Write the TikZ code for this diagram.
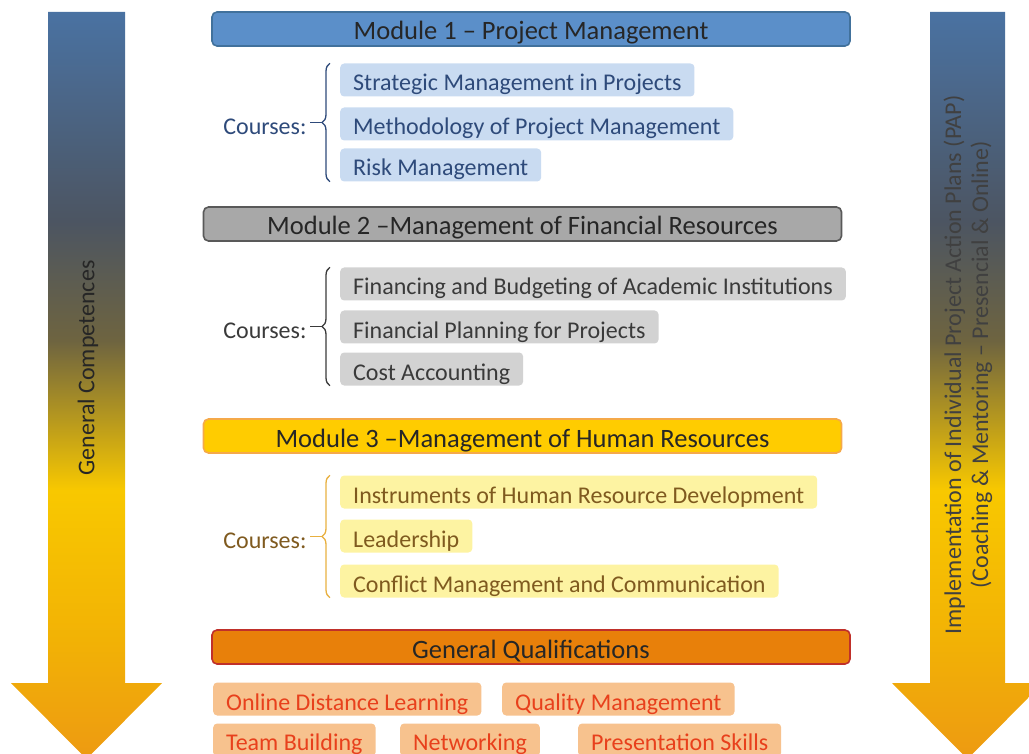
\documentclass[tikz,border=0pt]{standalone}
\usepackage{fontspec}
\setmainfont{Carlito}
\usepackage{tikz}
\usetikzlibrary{positioning,calc,decorations.pathreplacing}
\definecolor{modblue}{HTML}{5B8FC9}
\definecolor{modblueline}{HTML}{41719C}
\definecolor{courseblue}{HTML}{C9DBF1}
\definecolor{textblue}{HTML}{2E4A7A}
\definecolor{modgray}{HTML}{A8A8A8}
\definecolor{modgrayline}{HTML}{595959}
\definecolor{coursegray}{HTML}{D2D2D2}
\definecolor{textgray}{HTML}{3A3A3A}
\definecolor{modgold}{HTML}{FFCC00}
\definecolor{modgoldline}{HTML}{F5A94A}
\definecolor{courseyellow}{HTML}{FDF3A2}
\definecolor{textbrown}{HTML}{7F5A1F}
\definecolor{bracegold}{HTML}{E8B040}
\definecolor{qualorange}{HTML}{E8800A}
\definecolor{qualline}{HTML}{C0302A}
\definecolor{qualbox}{HTML}{F7C28E}
\definecolor{qualtext}{HTML}{E8401C}
\definecolor{gradblue}{HTML}{4A72A2}
\definecolor{gradslate}{HTML}{4C5562}
\definecolor{gradolive}{HTML}{6E6440}
\definecolor{gradgold}{HTML}{F8C800}
\definecolor{gradamber}{HTML}{F2B205}
\definecolor{gradorange}{HTML}{ED9A12}
\pgfdeclareverticalshading{competence}{100bp}{color(0bp)=(gradorange); color(25bp)=(gradorange); color(33bp)=(gradamber); color(43bp)=(gradgold); color(53bp)=(gradolive); color(61bp)=(gradslate); color(75bp)=(gradblue); color(100bp)=(gradblue)}
\newcommand{\bodyfont}{\fontsize{24}{27}\selectfont}
\newcommand{\headfont}{\fontsize{26.5}{30}\selectfont}

\begin{document}
\begin{tikzpicture}[x=1pt,y=-1pt,
    modhead/.style={draw, rounded corners=5pt, line width=1.6pt, minimum width=638pt, minimum height=34pt, inner ysep=0pt, text height=22pt, text depth=0pt, font=\headfont, text=black!85},
    coursebox/.style={anchor=west, rounded corners=4pt, inner xsep=13pt, inner ysep=0pt, minimum height=33pt, text height=22pt, text depth=0pt, font=\bodyfont},
    courselab/.style={font=\bodyfont, left=12pt of #1, yshift=-4pt},
    coursebrace/.style={decorate, decoration={brace, amplitude=8pt}, line width=1.3pt}]
    \useasboundingbox (0,0) rectangle (1029,754);
    \shade[shading=competence] (48,12) -- (125,12) -- (125,683) -- (162,683) -- (86.5,759) -- (11,683) -- (48,683) -- cycle;
    \shade[shading=competence] (930,12) -- (1005,12) -- (1005,683) -- (1043,683) -- (967.5,759) -- (892,683) -- (930,683) -- cycle;
    \node[rotate=90, font=\bodyfont, text=black!85] (gc) at (88,368) {General Competences};
    \node[rotate=90, font=\bodyfont, text=black!75, align=center] (pap) at (968,365) {Implementation of Individual Project Action Plans (PAP)\\(Coaching \& Mentoring -- Presencial \& Online)};

    \node[modhead, fill=modblue, draw=modblueline] (m1) at (531,29) {Module 1 -- Project Management};
    \node[coursebox, fill=courseblue, text=textblue] (c11) at (340,80) {Strategic Management in Projects};
    \node[coursebox, fill=courseblue, text=textblue] (c12) at (340,124) {Methodology of Project Management};
    \node[coursebox, fill=courseblue, text=textblue] (c13) at (340,165) {Risk Management};
    \coordinate (b1top) at ([xshift=-10pt]c11.north west);
    \coordinate (b1bot) at ([xshift=-10pt]c13.south west);
    \draw[coursebrace, textblue] (b1bot) -- (b1top);
    \coordinate (t1) at ($(b1top)!0.5!(b1bot)+(-8pt,0)$);
    \node[courselab=t1, text=textblue] (lab1) {Courses:};
    \draw[line width=1.3pt, textblue] (lab1.east |- t1) -- (t1);

    \node[modhead, fill=modgray, draw=modgrayline] (m2) at (522.5,224) {Module 2 --Management of Financial Resources};
    \node[coursebox, fill=coursegray, text=textgray] (c21) at (340,284) {Financing and Budgeting of Academic Institutions};
    \node[coursebox, fill=coursegray, text=textgray] (c22) at (340,327) {Financial Planning for Projects};
    \node[coursebox, fill=coursegray, text=textgray] (c23) at (340,369) {Cost Accounting};
    \coordinate (b2top) at ([xshift=-10pt]c21.north west);
    \coordinate (b2bot) at ([xshift=-10pt]c23.south west);
    \draw[coursebrace, textgray] (b2bot) -- (b2top);
    \coordinate (t2) at ($(b2top)!0.5!(b2bot)+(-8pt,0)$);
    \node[courselab=t2, text=textgray] (lab2) {Courses:};
    \draw[line width=1.3pt, textgray] (lab2.east |- t2) -- (t2);

    \node[modhead, fill=modgold, draw=modgoldline] (m3) at (522.5,436) {Module 3 --Management of Human Resources};
    \node[coursebox, fill=courseyellow, text=textbrown] (c31) at (340,492) {Instruments of Human Resource Development};
    \node[coursebox, fill=courseyellow, text=textbrown] (c32) at (340,536) {Leadership};
    \node[coursebox, fill=courseyellow, text=textbrown] (c33) at (340,581) {Conflict Management and Communication};
    \coordinate (b3top) at ([xshift=-10pt]c31.north west);
    \coordinate (b3bot) at ([xshift=-10pt]c33.south west);
    \draw[coursebrace, bracegold] (b3bot) -- (b3top);
    \coordinate (t3) at ($(b3top)!0.5!(b3bot)+(-8pt,0)$);
    \node[courselab=t3, text=textbrown] (lab3) {Courses:};
    \draw[line width=1.3pt, bracegold] (lab3.east |- t3) -- (t3);

    \node[modhead, fill=qualorange, draw=qualline] (gq) at (531,647) {General Qualifications};
    \node[coursebox, fill=qualbox, text=qualtext] (q1) at (213,699) {Online Distance Learning};
    \node[coursebox, fill=qualbox, text=qualtext] (q2) at (502,699) {Quality Management};
    \node[coursebox, fill=qualbox, text=qualtext, text height=20pt] (q3) at (213,740) {Team Building};
    \node[coursebox, fill=qualbox, text=qualtext, text height=20pt] (q4) at (400,740) {Networking};
    \node[coursebox, fill=qualbox, text=qualtext, text height=20pt] (q5) at (578,740) {Presentation Skills};
\end{tikzpicture}
\end{document}
